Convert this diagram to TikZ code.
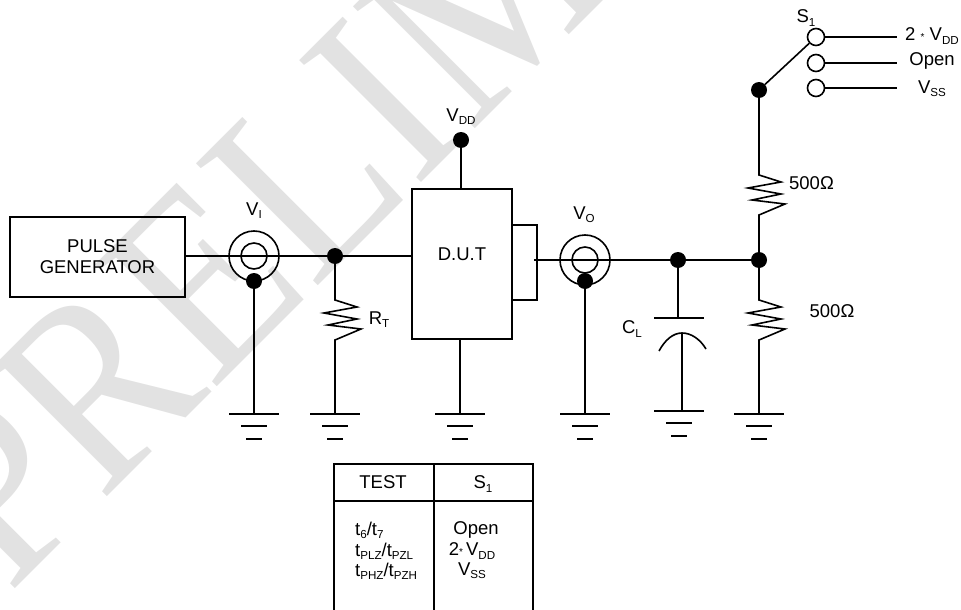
\documentclass[tikz,border=0pt]{standalone}
\usepackage{fontspec}
\setmainfont{Liberation Sans}
\newfontfamily\markfont{Liberation Serif}
\usetikzlibrary{calc}

\definecolor{markgray}{HTML}{E2E2E2}
\tikzset{
  wire/.style={draw, line width=1.6pt},
  dot/.style={circle, fill=black, inner sep=0pt, minimum size=16pt},
  ring/.style={circle, draw, line width=1.6pt, inner sep=0pt},
  blockbox/.style={draw, line width=1.6pt, inner sep=0pt, align=center, font=\fontsize{18.5}{21}\selectfont},
  lbl/.style={inner sep=0pt, font=\fontsize{18.5}{20}\selectfont},
  resistor/.style={to path={-- ($(\tikztotarget)+(0,-40)$) -- ++(22,7) -- ++(-33,6) -- ++(33,6) -- ++(-29,6) -- ++(33,4) -- ++(-26,11) -- (\tikztotarget)}}
}
\newcommand{\subt}[1]{\raisebox{-0.17em}{\fontsize{11.6}{12}\selectfont #1}}
% one ground symbol, three bars under the lead
\newcommand{\earth}[3]{
  \coordinate (#1) at (#2,#3);
  \draw[wire] ($(#1)+(-25,0)$) -- ($(#1)+(25,0)$);
  \draw[wire] ($(#1)+(-13,12)$) -- ($(#1)+(13,12)$);
  \draw[wire] ($(#1)+(-8,25)$) -- ($(#1)+(8,25)$);
}

\begin{document}
\begin{tikzpicture}[x=1pt,y=-1pt]
\useasboundingbox[clip] (0,0) rectangle (961,610);
\node[rotate=45,text=markgray,inner sep=0pt,anchor=base west,font=\markfont\fontsize{235}{235}\selectfont] (mark) at (9,595) {\scalebox{1}[1.12]{PRELIM}};

\node[blockbox,minimum width=175pt,minimum height=80pt] (gen) at (97.5,257) {PULSE\\GENERATOR};
\node[blockbox,minimum width=100pt,minimum height=150pt] (dut) at (462,264) {};
\node[lbl] (dutname) at (462,254) {D.U.T};
\node[blockbox,minimum width=25pt,minimum height=75pt] (tab) at (524.5,262.5) {};

% input side
\node[ring,minimum size=50pt] (VIa) at (254,256) {};
\node[ring,minimum size=26pt] (VIb) at (254,256) {};
\node[dot] (VIg) at (254,281) {};
\node[dot] (RTt) at (335,256) {};
\coordinate (RTb) at (335,340);
\earth{g1}{254}{414}
\earth{g2}{335}{414}
\draw[wire] (gen.east |- VIa) -- (RTt) -- (RTt -| dut.west);
\draw[wire] (VIg) -- (g1);
\draw[wire] (RTt) to[resistor] (RTb) -- (g2);
\node[lbl] (VIl) at (254,211) {V\subt{I}};
\node[lbl] (RTl) at (379,320) {R\subt{T}};

% device supply and return
\node[dot] (VDD) at (461,140) {};
\node[lbl] (VDDl) at (461,117) {V\subt{DD}};
\earth{g3}{460}{414}
\draw[wire] (VDD) -- (VDD |- dut.north);
\draw[wire] (g3 |- dut.south) -- (g3);

% output side
\node[ring,minimum size=50pt] (VOa) at (585,260) {};
\node[ring,minimum size=26pt] (VOb) at (585,260) {};
\node[dot] (VOg) at (585,281) {};
\node[dot] (CLt) at (678,260) {};
\node[dot] (Rmid) at (759,260) {};
\coordinate (Vout) at (534,260);
\earth{g4}{585}{414}
\earth{g5}{679}{411}
\earth{g6}{759}{414}
\draw[wire] (Vout) -- (Rmid);
\draw[wire] (VOg) -- (g4);
\node[lbl] (VOl) at (584,215) {V\subt{O}};

% load capacitor
\coordinate (CLp) at (678,318);
\coordinate (CLa) at (682,333);
\coordinate (CLl) at (659,351);
\coordinate (CLr) at (706,349);
\draw[wire] (CLt) -- (CLp);
\draw[wire] ($(CLp)+(-24,0)$) -- ($(CLp)+(26,0)$);
\draw[wire] (CLl) .. controls (665,340) and (673,333) .. (CLa) .. controls (691,333) and (700,339) .. (CLr);
\draw[wire] (CLa) -- (CLa |- g5);
\node[lbl] (CLname) at (632,329) {C\subt{L}};

% load resistors
\node[dot] (Sw) at (759,90) {};
\coordinate (Rub) at (759,215);
\coordinate (Rlb) at (759,340);
\draw[wire] (Sw) to[resistor] (Rub) -- (Rmid);
\draw[wire] (Rmid) to[resistor] (Rlb) -- (g6);
\node[lbl] (Rul) at (811.5,183) {500Ω};
\node[lbl] (Rll) at (832,311) {500Ω};

% switch
\node[ring,minimum size=17pt] (Sa) at (816,37) {};
\node[ring,minimum size=17pt] (Sb) at (816,63) {};
\node[ring,minimum size=17pt] (Sc) at (816,88) {};
\coordinate (Sae) at (897,37);
\coordinate (Sbe) at (897,63);
\coordinate (Sce) at (897,88);
\draw[wire] (Sw) -- (Sa);
\draw[wire] (Sa) -- (Sae);
\draw[wire] (Sb) -- (Sbe);
\draw[wire] (Sc) -- (Sce);
\node[lbl] (Sl) at (806,18) {S\subt{1}};
\node[lbl] (Sal) at (932,36) {2 {\fontsize{10}{10}\selectfont *} V\subt{DD}};
\node[lbl] (Sbl) at (932,61) {Open};
\node[lbl] (Scl) at (932,89) {V\subt{SS}};

% table
\coordinate (Ta) at (334,464);
\coordinate (Tb) at (434,464);
\coordinate (Tc) at (533,464);
\draw[wire] (334,612) -- (Ta) -- (Tc) -- (533,612);
\draw[wire] (Tb) -- (434,612);
\draw[wire] (334,501) -- (533,501);
\node[lbl] (Ttest) at (383,482) {TEST};
\node[lbl] (Ts) at (483,484) {S\subt{1}};
\node[lbl,anchor=west] (Tl1) at (355,530) {t\subt{6}/t\subt{7}};
\node[lbl,anchor=west] (Tl2) at (355,551) {t\subt{PLZ}/t\subt{PZL}};
\node[lbl,anchor=west] (Tl3) at (355,571) {t\subt{PHZ}/t\subt{PZH}};
\node[lbl] (Tr1) at (476,530) {Open};
\node[lbl] (Tr2) at (472,551) {2{\fontsize{10}{10}\selectfont *}\,V\subt{DD}};
\node[lbl] (Tr3) at (472,571) {V\subt{SS}};
\end{tikzpicture}
\end{document}
